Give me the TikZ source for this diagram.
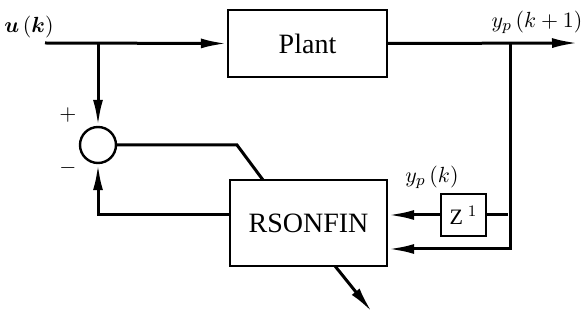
\documentclass[tikz,border=0pt]{standalone}
\usepackage{amsmath,amssymb}
\usepackage{fontspec}
\setmainfont{Liberation Serif}
\usetikzlibrary{arrows.meta}

\begin{document}
\begin{tikzpicture}[x=0.5pt, y=-0.5pt,
  sig/.style={line width=1.5pt},
  arr/.style={sig, -{Latex[length=13pt,width=5pt]}},
  blk/.style={draw, line width=1.2pt, inner sep=0pt, font=\fontsize{14}{17}\selectfont},
  lab/.style={font=\fontsize{11}{13}\selectfont}]
\useasboundingbox (0,0) rectangle (584,320);
\node[blk, minimum width=79.5pt, minimum height=33.5pt] (plant) at (307.5,43.5) {Plant};
\node[blk, minimum width=78.5pt, minimum height=43pt] (rsonfin) at (308.5,223) {RSONFIN};
\node[blk, minimum width=22.5pt, minimum height=21pt, font=\fontsize{11}{13}\selectfont] (zinv) at (463.5,215) {Z$^{\;1}$};
\node[draw, circle, line width=1.2pt, minimum size=18pt, inner sep=0pt] (sum) at (98,145) {};
\coordinate (uin) at (45,43);
\coordinate (ubr) at (98,43);
\coordinate (tap) at (510,43);
\coordinate (yout) at (578,43);
\coordinate (tapb) at (510,249);
\coordinate (ebend) at (237,145);
\coordinate (ein) at (263,180);
\coordinate (oa) at (335,266);
\coordinate (ob) at (372,312);
\draw[arr] (uin) -- (plant.west);
\draw[arr] (ubr) -- (sum.north);
\draw[arr] (plant.east) -- (yout);
\draw[arr] (tap) -- (tapb) -- (tapb -| rsonfin.east);
\draw[sig] (zinv.east) -- ++(21,0);
\draw[arr] (zinv.west) -- (zinv.west -| rsonfin.east);
\draw[arr] (rsonfin.west |- zinv.west) -| (sum.south);
\draw[sig] (sum.east) -- (ebend) -- (ein);
\draw[arr] (oa) -- (ob);
\node[lab] (ulab) at (29,27) {$\boldsymbol{u}\,(\boldsymbol{k})$};
\node[lab] (plus) at (68,115) {$+$};
\node[lab] (minus) at (68,168) {$-$};
\node[lab] (ylab) at (537,22) {$y_{p}\,(k+1)$};
\node[lab] (yklab) at (432,177) {$y_{p}\,(k)$};
\end{tikzpicture}
\end{document}
